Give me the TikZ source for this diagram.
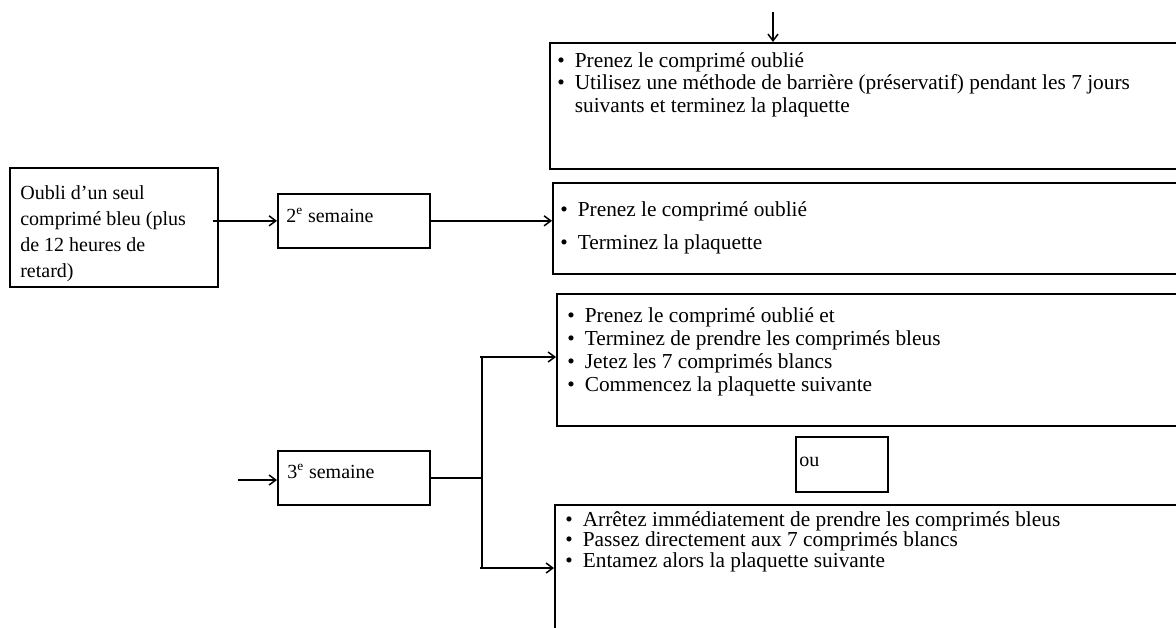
\documentclass[tikz,border=0pt]{standalone}
\usepackage{fontspec}
\setmainfont{Liberation Serif}
\usetikzlibrary{arrows.meta}
\tikzset{
	cadre/.style={draw, line width=1pt, rectangle, inner sep=0pt, anchor=north west},
	texte/.style={inner sep=0pt, anchor=base west},
	liste/.style={texte, font=\fontsize{12.8}{15}\selectfont},
	fleche/.style={line width=0.9pt, -{Straight Barb[length=4pt,width=6pt]}}
}
\newcommand{\puce}{\makebox[10.5pt][l]{\textbullet}}

\begin{document}
\begin{tikzpicture}[x=0.6pt, y=-0.6pt, font=\fontsize{12}{14}\selectfont]
	\def \px{0.6pt}
	\useasboundingbox (0,0) rectangle (1176,627);
	% cadres
	\node[cadre, minimum width=208*\px, minimum height=119*\px] (bA) at (9,167) {};
	\node[cadre, minimum width=152*\px, minimum height=54*\px] (s2) at (277,193) {};
	\node[cadre, minimum width=152*\px, minimum height=54*\px] (s3) at (277,450) {};
	\node[cadre, minimum width=660*\px, minimum height=126*\px] (bB) at (549,42) {};
	\node[cadre, minimum width=660*\px, minimum height=91*\px] (bC) at (552,182) {};
	\node[cadre, minimum width=660*\px, minimum height=132*\px] (bD) at (556,293) {};
	\node[cadre, minimum width=92*\px, minimum height=55*\px] (ou) at (795,436) {};
	\node[cadre, minimum width=660*\px, minimum height=128*\px] (bF) at (554,504) {};
	% textes
	\foreach \ligne [count=\i from 0] in {Oubli d’un seul, comprimé bleu (plus, de 12 heures de, retard)}
		\node[texte] (a\i) at (20, 199+26*\i) {\ligne};
	\node[texte] (t2) at (286,222) {2\textsuperscript{e} semaine};
	\node[texte] (t3) at (287,478) {3\textsuperscript{e} semaine};
	\node[texte] (tou) at (799,466) {ou};
	\node[liste] (b0) at (557,67) {\puce Prenez le comprimé oublié};
	\node[liste] (b1) at (557,89.5) {\puce Utilisez une méthode de barrière (préservatif) pendant les 7 jours};
	\node[liste] (b2) at (574.5,112) {suivants et terminez la plaquette};
	\foreach \ligne [count=\i from 0] in {Prenez le comprimé oublié, Terminez la plaquette}
		\node[liste] (c\i) at (560, 216+33*\i) {\puce\ligne};
	\foreach \ligne [count=\i from 0] in {Prenez le comprimé oublié et, Terminez de prendre les comprimés bleus, Jetez les 7 comprimés blancs, Commencez la plaquette suivante}
		\node[liste] (d\i) at (567, 322+23.3*\i) {\puce\ligne};
	\foreach \ligne [count=\i from 0] in {Arrêtez immédiatement de prendre les comprimés bleus, Passez directement aux 7 comprimés blancs, Entamez alors la plaquette suivante}
		\node[liste] (f\i) at (565, 526+20.8*\i) {\puce\ligne};
	% fleches
	\coordinate (entree) at (773,12);
	\coordinate (depart) at (238,480);
	\coordinate (jonction) at (482,477);
	\coordinate (haut) at (480,357);
	\coordinate (bas) at (480,568);
	\draw[fleche] (entree) -- (entree |- bB.north);
	\draw[fleche] ([xshift=-6*\px]bA.east |- s2.west) -- (s2.west);
	\draw[fleche] (s2.east) -- (s2.east -| bC.west);
	\draw[fleche] (depart) -- (depart -| s3.west);
	\draw[line width=0.9pt] (s3.east) -- (s3.east -| jonction);
	\draw[line width=0.9pt] (jonction |- haut) -- (jonction |- bas);
	\draw[fleche] (haut) -- (haut -| bD.west);
	\draw[fleche] (bas) -- (bas -| bF.west);
\end{tikzpicture}
\end{document}
